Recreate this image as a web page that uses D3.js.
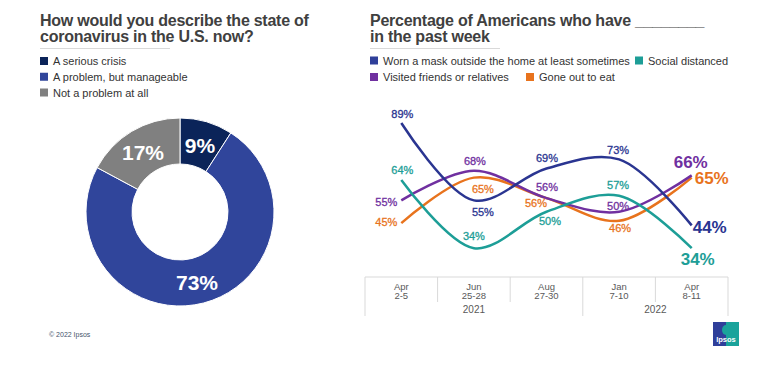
<!DOCTYPE html>
<html>
<head>
<meta charset="utf-8">
<script src="https://cdn.jsdelivr.net/npm/d3@7"></script>
<style>
  body { margin: 0; background: #fff; font-family: "Liberation Sans", Arial, sans-serif; }
</style>
</head>
<body>
<svg id="chart" width="768" height="374"></svg>
<script>
  // donut data
  var pieLabels = ["A serious crisis", "A problem, but manageable", "Not a problem at all"];
  var pieValues = [9, 73, 17];
  var pieColors = ["#0b2459", "#30459b", "#808080"];

  // line data
  var dates = ["Apr|2-5", "Jun|25-28", "Aug|27-30", "Jan|7-10", "Apr|8-11"];
  var years = ["2021", "2022"];
  var seriesNames = ["Worn a mask outside the home at least sometimes", "Social distanced", "Visited friends or relatives", "Gone out to eat"];
  var maskVals = [89, 55, 69, 73, 44];
  var distVals = [64, 34, 50, 57, 34];
  var visitVals = [55, 68, 56, 50, 66];
  var eatVals = [45, 65, 56, 46, 65];
  var lineColors = ["#2a3591", "#1d9e97", "#7030a0", "#e8731d"];
  var legendColors = ["#2f3f9a", "#1d9e97", "#7030a0", "#e8731d"];

  var svg = d3.select("#chart");

  // ---- titles ----
  function title(x, lines) {
    var t = svg.append("text")
      .attr("x", x).attr("y", 26)
      .attr("font-size", "16px")
      .attr("letter-spacing", "-0.25px")
      .attr("font-weight", "bold")
      .attr("fill", "#404040");
    lines.forEach((l, i) => {
      t.append("tspan").attr("x", x).attr("dy", i == 0 ? 0 : 15.5).text(l);
    });
    svg.append("line")
      .attr("x1", x).attr("x2", x + 130)
      .attr("y1", 48.5).attr("y2", 48.5)
      .attr("stroke", "#d9d9d9").attr("stroke-width", 1);
  }
  title(40, ["How would you describe the state of", "coronavirus in the U.S. now?"]);
  title(370, ["Percentage of Americans who have ________", "in the past week"]);

  // ---- donut legend ----
  pieLabels.forEach((l, i) => {
    var y = 61 + i * 15.75;
    svg.append("rect").attr("x", 40).attr("y", y - 4).attr("width", 8).attr("height", 8)
      .attr("fill", pieColors[i]);
    svg.append("text").attr("x", 53).attr("y", y + 4)
      .attr("font-size", "11px").attr("fill", "#333").text(l);
  });

  // ---- donut ----
  var cx = 180, cy = 212;
  var pie = d3.pie().sort(null).value(d => d);
  var arcs = pie(pieValues);
  var arc = d3.arc().innerRadius(48).outerRadius(94);
  var gPie = svg.append("g").attr("transform", "translate(" + cx + "," + cy + ")");
  gPie.selectAll("path").data(arcs).enter().append("path")
    .attr("d", arc)
    .attr("fill", (d, i) => pieColors[i])
    .attr("stroke", "#fff")
    .attr("stroke-width", 1);

  var pieLabelPos = [[20, -59], [17, 78], [-37, -52]];
  gPie.selectAll("text.pl").data(arcs).enter().append("text")
    .attr("class", "pl")
    .attr("x", (d, i) => pieLabelPos[i][0])
    .attr("y", (d, i) => pieLabelPos[i][1])
    .attr("text-anchor", "middle")
    .attr("font-size", "21px")
    .attr("font-weight", "bold")
    .attr("fill", "#fff")
    .text(d => d.value + "%");

  svg.append("text").attr("x", 49).attr("y", 337)
    .attr("font-size", "7px").attr("fill", "#44546a").text("\u00a9 2022 Ipsos");

  // ---- line legend ----
  var legItems = [
    { x: 370, y: 60.5, i: 0 }, { x: 635, y: 60.5, i: 1 },
    { x: 370, y: 77, i: 2 }, { x: 526, y: 77, i: 3 }
  ];
  legItems.forEach(d => {
    svg.append("rect").attr("x", d.x).attr("y", d.y - 4).attr("width", 8).attr("height", 8)
      .attr("fill", legendColors[d.i]);
    svg.append("text").attr("x", d.x + 13).attr("y", d.y + 4)
      .attr("font-size", "11px").attr("fill", "#333").text(seriesNames[d.i]);
  });

  // ---- line chart ----
  var x = d3.scaleBand().domain(dates).range([365, 728]);
  var y = d3.scaleLinear().domain([20, 100]).range([280, 98]);
  var axisTop = 277;

  var gAxis = svg.append("g");
  gAxis.append("line").attr("x1", 365).attr("x2", 728).attr("y1", axisTop).attr("y2", axisTop)
    .attr("stroke", "#d9d9d9");
  dates.forEach((d, i) => {
    var x0 = x(d);
    var tall = (i == 0 || i == 3);
    gAxis.append("line").attr("x1", x0).attr("x2", x0).attr("y1", axisTop).attr("y2", tall ? 316 : 302)
      .attr("stroke", "#d9d9d9");
    var parts = d.split("|");
    var t = gAxis.append("text").attr("x", x0 + x.bandwidth() / 2).attr("y", 289.5)
      .attr("text-anchor", "middle").attr("font-size", "9.5px").attr("fill", "#595959");
    t.append("tspan").attr("x", x0 + x.bandwidth() / 2).text(parts[0]);
    t.append("tspan").attr("x", x0 + x.bandwidth() / 2).attr("dy", 9).text(parts[1]);
  });
  gAxis.append("line").attr("x1", 728).attr("x2", 728).attr("y1", axisTop).attr("y2", 316)
    .attr("stroke", "#d9d9d9");
  gAxis.append("text").attr("x", (x(dates[0]) + x(dates[3])) / 2).attr("y", 313)
    .attr("text-anchor", "middle").attr("font-size", "10px").attr("fill", "#595959").text(years[0]);
  gAxis.append("text").attr("x", (x(dates[3]) + 728) / 2).attr("y", 313)
    .attr("text-anchor", "middle").attr("font-size", "10px").attr("fill", "#595959").text(years[1]);

  var series = [maskVals, distVals, visitVals, eatVals];
  var line = d3.line()
    .x((d, i) => x(dates[i]) + x.bandwidth() / 2)
    .y(d => y(d))
    .curve(d3.curveCatmullRom.alpha(0.5));

  // draw order: orange, purple, teal, mask
  [3, 2, 1, 0].forEach(k => {
    svg.append("path").datum(series[k])
      .attr("d", line)
      .attr("fill", "none")
      .attr("stroke", lineColors[k])
      .attr("stroke-width", 2.5);
  });

  // label centre offsets [dx, dy] from each point (last one is big)
  var labelOffsets = [
    [[1, -9], [9, 11.5], [0.5, -10.5], [-1, -9.5], [18, 1.5]],
    [[1, -10], [0, -12], [3.5, 9], [-1, -11], [6, 11]],
    [[-15, 1.5], [1, -10], [0.5, -11], [-1, -6], [-1, -13]],
    [[-15, -1], [9, 11.5], [-10.5, 5], [1, 7.5], [20, 0.5]]
  ];
  series.forEach((vals, k) => {
    vals.forEach((v, i) => {
      var last = i == vals.length - 1;
      svg.append("text")
        .attr("x", x(dates[i]) + x.bandwidth() / 2 + labelOffsets[k][i][0])
        .attr("y", y(v) + labelOffsets[k][i][1])
        .attr("dy", "0.36em")
        .attr("text-anchor", "middle")
        .attr("font-size", last ? "17px" : "11px")
        .attr("font-weight", last ? "bold" : "normal")
        .attr("stroke", last ? "none" : lineColors[k])
        .attr("stroke-width", 0.3)
        .attr("fill", lineColors[k])
        .text(v + "%");
    });
  });

  // ---- Ipsos logo ----
  var logo = svg.append("g").attr("transform", "translate(713,322)");
  logo.append("rect").attr("width", 26).attr("height", 24).attr("fill", "#1aa39b");
  logo.append("rect").attr("width", 13).attr("height", 24).attr("fill", "#2f3f9a");
  logo.append("ellipse").attr("cx", 13).attr("cy", 8).attr("rx", 4).attr("ry", 5).attr("fill", "#1aa39b");
  logo.append("text").attr("x", 13).attr("y", 20).attr("text-anchor", "middle")
    .attr("font-size", "7.5px").attr("font-weight", "bold").attr("fill", "#fff").text("Ipsos");
</script>
</body>
</html>
